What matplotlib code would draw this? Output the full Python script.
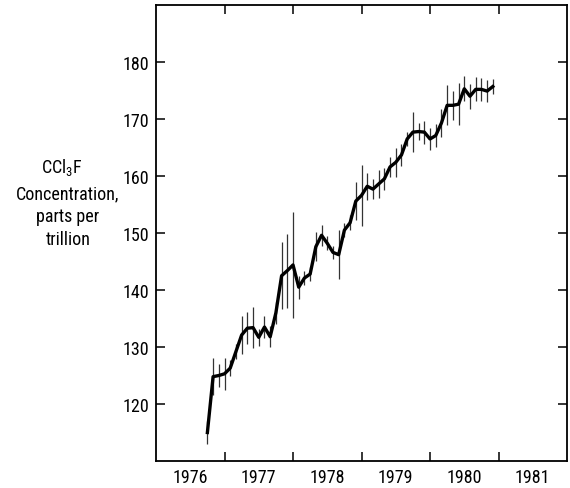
import numpy as np
import matplotlib.pyplot as plt
from matplotlib import font_manager

# the original lettering is narrow: look for a condensed face, else DejaVu
def pick_font():
    prefer = ['Liberation Sans Narrow', 'Roboto Condensed', 'DejaVu Sans',
              'Open Sans Condensed', 'Noto Sans']
    found = []
    for f in font_manager.fontManager.ttflist:
        fn = f.fname.lower()
        narrow = ('narrow' in fn or 'condensed' in fn or
                  str(f.stretch) in ('condensed', 'semi-condensed', '75', '87.5'))
        if not narrow or f.style != 'normal':
            continue
        if str(f.weight) not in ('400', 'normal', 'regular', 'book'):
            continue
        found.append(f)
    for name in prefer:
        for f in found:
            if f.name == name:
                return f
    return found[0] if found else None

cf = pick_font()
if cf is not None:
    font_manager.fontManager.addfont(cf.fname)
    plt.rcParams['font.family'] = [cf.name, 'DejaVu Sans']
    plt.rcParams['font.stretch'] = cf.stretch
    fs = 13
else:
    plt.rcParams['font.family'] = ['DejaVu Sans']
    fs = 11.5

# monthly means, Oct 1976 .. Dec 1980
start_year = 1976.75
values = [115.0, 124.8, 125.0, 125.3, 126.3, 129.2, 132.1, 133.3, 133.4, 131.7,
          133.5, 131.8, 136.0, 142.5, 143.4, 144.4, 140.5, 142.1, 142.8, 147.6,
          149.6, 148.2, 146.6, 146.2, 150.5, 151.8, 155.6, 156.6, 158.2, 157.7,
          158.6, 159.5, 161.6, 162.4, 163.7, 166.5, 167.7, 167.8, 167.7, 166.5,
          167.1, 169.3, 172.4, 172.4, 172.6, 175.3, 174.0, 175.2, 175.2, 174.9, 175.7]
# half length of the vertical bars
errors = [2.0, 3.3, 2.0, 2.8, 1.4, 1.3, 3.4, 2.8, 3.6, 1.5,
          2.0, 1.8, 1.9, 5.9, 6.5, 9.3, 2.0, 1.3, 1.3, 2.5,
          1.8, 1.2, 1.2, 4.3, 1.2, 1.3, 3.4, 5.4, 2.4, 1.8,
          2.4, 1.9, 1.8, 2.6, 2.0, 1.3, 3.5, 1.5, 2.0, 1.9,
          2.0, 2.4, 3.5, 2.5, 3.7, 2.2, 2.2, 2.1, 2.0, 1.9, 1.3]
years = [1976, 1977, 1978, 1979, 1980, 1981]
yticks = [120, 130, 140, 150, 160, 170, 180]

t = start_year + np.arange(len(values)) / 12.0

fig = plt.figure(figsize=(5.7, 4.89), dpi=100)
ax = fig.add_axes([0.2737, 0.0552, 0.7211, 0.9325])

ax.errorbar(t, values, yerr=errors, fmt='none', ecolor='#333333',
            elinewidth=0.9, capsize=0)
ax.plot(t, values, color='black', lw=2.4)

ax.set_xlim(1976, 1982)
ax.set_ylim(110, 190)

# year boundaries as ticks, year names centred between them
ax.set_xticks(years[1:])
ax.set_xticklabels([])
ax.set_xticks([y + 0.5 for y in years], minor=True)
ax.set_xticklabels([str(y) for y in years], minor=True, fontsize=fs)
ax.tick_params(axis='x', which='minor', length=0, pad=5)

ax.set_yticks(yticks)
ax.set_yticklabels([str(v) for v in yticks], fontsize=fs)

ax.tick_params(which='major', direction='in', length=6.5, width=1.1,
               top=True, right=True, pad=5)
for s in ax.spines.values():
    s.set_linewidth(1.3)

# side label, one line at a time
fig.text(62 / 570, 1 - 168 / 489, r'CCl$_{\mathregular{3}}$F', fontsize=fs,
         ha='center', va='center')
label_lines = ['Concentration,', 'parts per', 'trillion']
for k, line in enumerate(label_lines):
    fig.text(68 / 570, 1 - (194 + 23 * k) / 489, line, fontsize=fs,
             ha='center', va='center')

fig.savefig('out.png', dpi=100)
